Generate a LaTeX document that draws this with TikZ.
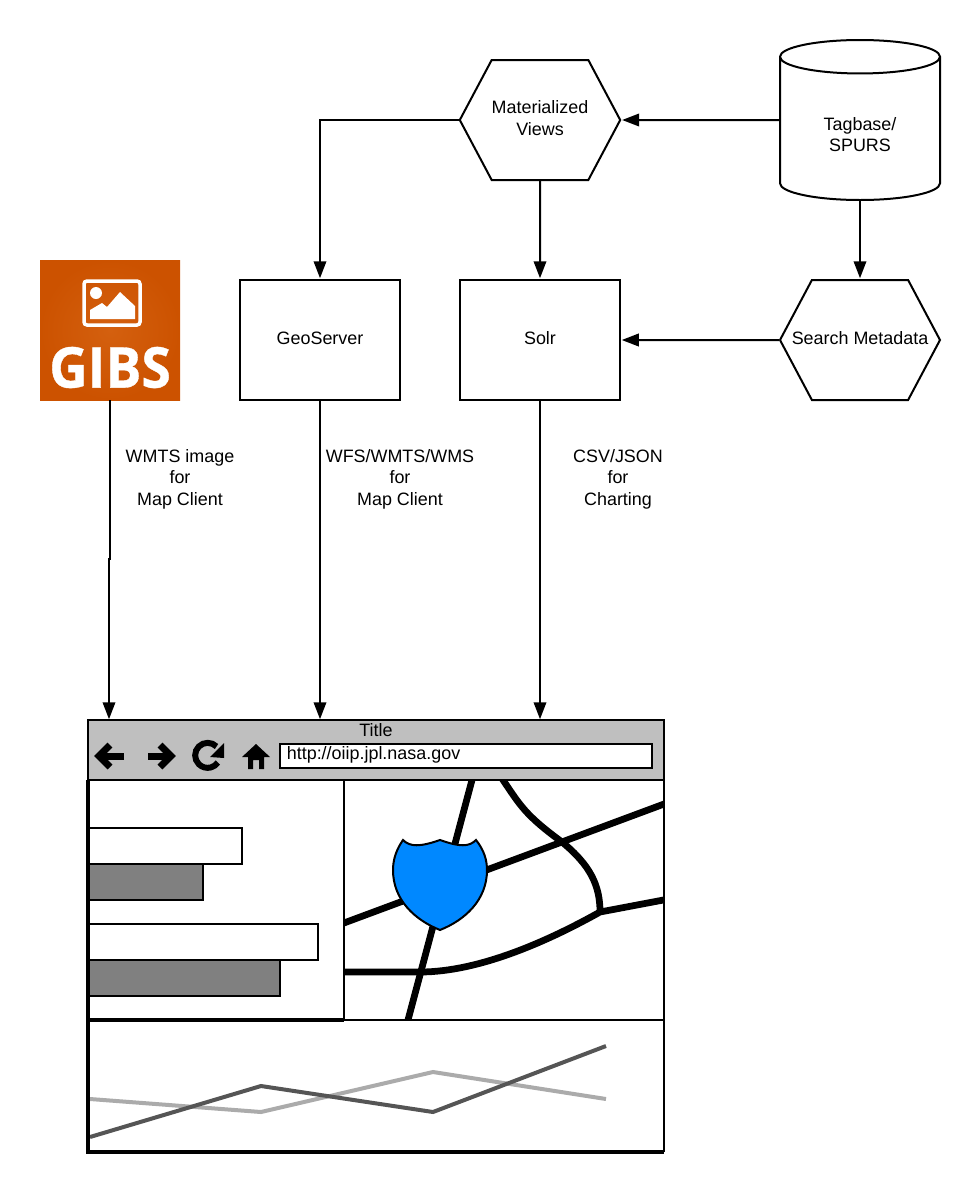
\documentclass[tikz,border=0pt]{standalone}
\usepackage{fontspec}
\setmainfont{Liberation Sans}
\newfontfamily\logofont[BoldFeatures={FakeBold=0.6,FakeStretch=0.95}]{Open Sans}
\usetikzlibrary{shapes.geometric, shapes.symbols, arrows.meta}
\definecolor{gibsorange}{HTML}{CC5200}
\definecolor{gibslight}{HTML}{D4600F}
\definecolor{shieldblue}{HTML}{0088FF}
\definecolor{bargray}{HTML}{808080}
\definecolor{lightline}{HTML}{ABABAB}
\definecolor{darkline}{HTML}{555555}
\tikzstyle{box} = [rectangle, minimum width=3.2cm, minimum height=2.4cm, text centered, text depth=0.08cm, draw=black, line width=0.04cm]
\tikzstyle{hexa} = [signal, signal to=west and east, signal pointer angle=124, minimum width=3.2cm, minimum height=2.4cm, inner sep=0pt, text centered, text depth=0.08cm, align=center, draw=black, line width=0.04cm]
\tikzstyle{store} = [cylinder, shape border rotate=90, aspect=0.46, minimum width=3.2cm, minimum height=3.2cm, inner sep=0pt, align=center, draw=black, line width=0.04cm, anchor=shape center]
\tikzstyle{note} = [align=center, inner sep=0pt]
\tikzstyle{arrow} = [line width=0.04cm, -{Triangle[length=0.34cm,width=0.25cm]}, shorten >=0.015cm]
\tikzstyle{bar} = [rectangle, line width=0.04cm, draw=black, anchor=north west, inner sep=0pt, outer sep=0pt]
\tikzstyle{road} = [line width=0.135cm, draw=black]
\begin{document}
\begin{tikzpicture}[every node/.style={font=\fontsize{10.2pt}{12.2pt}\selectfont}]
\useasboundingbox (0,0) rectangle (19.6,-23.84);

\node (views) [hexa, xshift=10.8cm, yshift=-2.4cm] {Materialized\\Views};
\node (tagbase) [store, xshift=17.2cm, yshift=-2.4cm] {\rule{0pt}{0.48cm}Tagbase/\\SPURS};
\node (search) [hexa, xshift=17.2cm, yshift=-6.8cm] {\makebox[0pt]{Search Metadata}};
\node (geo) [box, xshift=6.4cm, yshift=-6.8cm] {GeoServer};
\node (solr) [box, xshift=10.8cm, yshift=-6.8cm] {Solr};

% logo
\node (gibs) [rectangle, minimum width=2.8cm, minimum height=2.8cm, inner color=gibslight, outer color=gibsorange, xshift=2.2cm, yshift=-6.6cm] {};
\node (gibstext) [text=white, inner sep=0pt, xshift=2.2cm, yshift=-7.35cm, font=\logofont\bfseries\fontsize{32pt}{32pt}\selectfont] {GIBS};
\draw [white, line width=0.07cm, rounded corners=0.06cm] (1.68,-5.62) rectangle (2.8,-6.5);
\fill [white] (1.92,-5.86) circle (0.12);
\fill [white] (1.8,-6.38) -- (1.8,-6.2) -- (2.04,-6.06) -- (2.14,-6.14) -- (2.4,-5.84) -- (2.7,-6.12) -- (2.7,-6.38) -- cycle;

% map
\begin{scope}
\clip (6.88,-15.6) rectangle (13.28,-20.4);
\draw [road] (9.52,-15.3) -- (8.08,-20.7);
\draw [road] (6.68,-18.534) -- (13.48,-16.006);
\draw [road] (6.88,-19.44) -- (8.4,-19.44) .. controls (9.6,-19.44) and (11,-18.8) .. (12,-18.24) -- (13.48,-17.96);
\draw [road] (9.95,-15.44) -- (10.06,-15.6) .. controls (10.4,-16.1) and (10.5,-16.3) .. (11.24,-16.84) .. controls (11.8,-17.3) and (12,-17.7) .. (12,-18.24);
\end{scope}
\draw [line width=0.04cm, fill=shieldblue] (8.06,-16.8) .. controls (8.2,-16.94) and (8.4,-16.94) .. (8.8,-16.8) .. controls (9.2,-16.94) and (9.38,-16.94) .. (9.52,-16.8) .. controls (9.68,-17.0) and (9.74,-17.2) .. (9.74,-17.4) .. controls (9.74,-18.0) and (9.3,-18.4) .. (8.8,-18.6) .. controls (8.3,-18.4) and (7.86,-18.0) .. (7.86,-17.4) .. controls (7.86,-17.2) and (7.92,-17.0) .. (8.06,-16.8) -- cycle;

% browser
\node (title) [rectangle, minimum width=11.52cm, minimum height=1.2cm, fill=gray!50!white, draw=black, line width=0.05cm, outer sep=0pt, anchor=north west, xshift=1.76cm, yshift=-14.4cm] {};
\node (titletext) [note, xshift=7.52cm, yshift=-14.6cm] {Title};
\node (url) [rectangle, minimum width=7.44cm, minimum height=0.48cm, fill=white, draw=black, line width=0.04cm, outer sep=0pt, anchor=north west, xshift=5.6cm, yshift=-14.88cm] {};
\node (urltext) [note, anchor=west, xshift=5.73cm, yshift=-15.1cm] {http://oiip.jpl.nasa.gov};

% toolbar icons
\draw [line width=0.14cm] (2.48,-15.12) -- (2.0,-15.12);
\draw [line width=0.14cm] (2.2,-14.9) -- (1.98,-15.12) -- (2.2,-15.34);
\draw [line width=0.14cm] (2.96,-15.12) -- (3.42,-15.12);
\draw [line width=0.14cm] (3.2,-14.9) -- (3.42,-15.12) -- (3.2,-15.34);
\draw [line width=0.12cm] (4.33,-14.93) arc (45:325:0.25);
\fill (4.48,-14.86) -- (4.48,-15.16) -- (4.2,-15.14) -- cycle;
\fill (4.84,-15.14) -- (5.12,-14.88) -- (5.4,-15.14) -- (5.28,-15.14) -- (5.28,-15.38) -- (5.18,-15.38) -- (5.18,-15.2) -- (5.06,-15.2) -- (5.06,-15.38) -- (4.96,-15.38) -- (4.96,-15.14) -- cycle;

% bars
\node (bara) [bar, minimum width=3.08cm, minimum height=0.72cm, fill=white, xshift=1.76cm, yshift=-16.56cm] {};
\node (barb) [bar, minimum width=2.3cm, minimum height=0.72cm, fill=bargray, xshift=1.76cm, yshift=-17.28cm] {};
\node (barc) [bar, minimum width=4.6cm, minimum height=0.72cm, fill=white, xshift=1.76cm, yshift=-18.48cm] {};
\node (bard) [bar, minimum width=3.84cm, minimum height=0.72cm, fill=bargray, xshift=1.76cm, yshift=-19.2cm] {};

% chart
\draw [lightline, line width=0.08cm] (1.8,-21.98) -- (5.22,-22.24) -- (8.66,-21.44) -- (12.12,-21.98);
\draw [darkline, line width=0.08cm] (1.8,-22.74) -- (5.22,-21.72) -- (8.66,-22.24) -- (12.12,-20.92);

% panes
\draw [line width=0.04cm] (6.88,-15.6) -- (6.88,-20.4);
\draw [line width=0.04cm] (6.88,-20.4) -- (13.28,-20.4);
\draw [line width=0.07cm] (1.76,-20.4) -- (6.88,-20.4);
\draw [line width=0.04cm] (13.28,-15.6) -- (13.28,-23.04);
\draw [line width=0.08cm] (1.76,-15.6) -- (1.76,-23.04) -- (13.28,-23.04);

\node (labela) [note, xshift=3.6cm, yshift=-9.58cm] {WMTS image\\for\\Map Client};
\node (labelb) [note, xshift=8cm, yshift=-9.58cm] {WFS/WMTS/WMS\\for\\Map Client};
\node (labelc) [note, xshift=12.36cm, yshift=-9.58cm] {CSV/JSON\\for\\Charting};

\coordinate (jog) at (2.18,-11.18);
\draw [arrow] (tagbase.west |- views) -- (views);
\draw [arrow] (tagbase.south) -- (search.north);
\draw [arrow] (views.west) -| (geo.north);
\draw [arrow] (views) -- (solr);
\draw [arrow] (search) -- (solr);
\draw [arrow] (gibs) |- (jog) -- (jog |- title.north);
\draw [arrow] (geo) -- (geo |- title.north);
\draw [arrow] (solr) -- (solr |- title.north);
\end{tikzpicture}
\end{document}
